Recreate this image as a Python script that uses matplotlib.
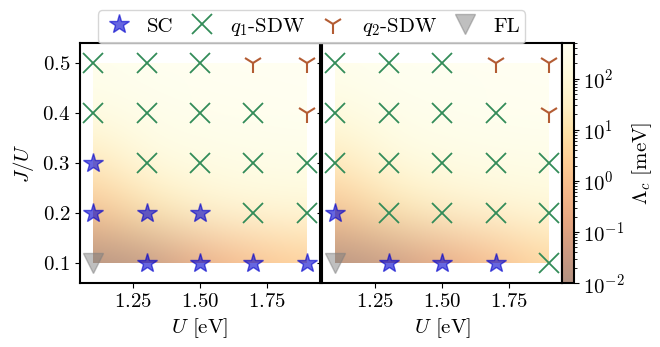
import numpy as np
import matplotlib.pyplot as plt
from matplotlib.colors import LogNorm
from matplotlib.lines import Line2D
from matplotlib.patches import Rectangle

plt.rcParams['font.family'] = 'serif'
plt.rcParams['font.serif'] = ['cmr10']
plt.rcParams['mathtext.fontset'] = 'cm'
plt.rcParams['axes.formatter.use_mathtext'] = True
plt.rcParams['font.size'] = 15

# grid
U = [1.1, 1.3, 1.5, 1.7, 1.9]
JU = [0.1, 0.2, 0.3, 0.4, 0.5]

# Lambda_c [meV], rows = J/U, cols = U
lam_left = [
    [0.01, 0.02, 0.2, 1.0, 3.0],
    [1.0, 10, 40, 80, 100],
    [20, 150, 200, 250, 250],
    [200, 300, 350, 400, 450],
    [350, 450, 500, 500, 500],
]
lam_right = [
    [0.01, 0.03, 0.15, 0.8, 5.0],
    [1.0, 10, 30, 60, 100],
    [20, 120, 200, 250, 250],
    [150, 300, 350, 400, 450],
    [350, 450, 500, 500, 500],
]

# phases, rows = J/U, cols = U
phase_left = [
    ['FL', 'SC', 'SC', 'SC', 'SC'],
    ['SC', 'SC', 'SC', 'q1', 'q1'],
    ['SC', 'q1', 'q1', 'q1', 'q1'],
    ['q1', 'q1', 'q1', 'q1', 'q2'],
    ['q1', 'q1', 'q1', 'q2', 'q2'],
]
phase_right = [
    ['FL', 'SC', 'SC', 'SC', 'q1'],
    ['SC', 'q1', 'q1', 'q1', 'q1'],
    ['q1', 'q1', 'q1', 'q1', 'q1'],
    ['q1', 'q1', 'q1', 'q1', 'q2'],
    ['q1', 'q1', 'q1', 'q2', 'q2'],
]

styles = {
    'SC': dict(marker='*', color=(0.0, 0.0, 0.8), alpha=0.6, ms=15, mew=1, ls='none'),
    'q1': dict(marker='x', color=(0.2, 0.55, 0.35), ms=14, mew=1.3, ls='none'),
    'q2': dict(marker='1', color=(0.7, 0.36, 0.2), ms=15, mew=1.5, ls='none'),
    'FL': dict(marker='v', color='grey', alpha=0.5, ms=15, mew=1, ls='none'),
}
names = {'SC': 'SC', 'q1': '$q_1$-SDW', 'q2': '$q_2$-SDW', 'FL': 'FL'}

fig = plt.figure(figsize=(6.6, 3.47), dpi=100)
ax1 = fig.add_axes([0.121, 0.184, 0.364, 0.692])
ax2 = fig.add_axes([0.488, 0.184, 0.364, 0.692], sharey=ax1)
cax = fig.add_axes([0.852, 0.184, 0.017, 0.692])

norm = LogNorm(vmin=1e-2, vmax=5e2)
for ax, lam, phase in [(ax1, lam_left, phase_left), (ax2, lam_right, phase_right)]:
    # pixel centres on the grid points, clipped to the computed rectangle
    im = ax.imshow(np.array(lam), origin='lower', extent=[1.0, 2.0, 0.05, 0.55],
                   aspect='auto', cmap='YlOrBr_r', norm=norm, alpha=0.5,
                   interpolation='bicubic', interpolation_stage='rgba')
    im.set_clip_path(Rectangle((1.1, 0.1), 0.8, 0.4, transform=ax.transData))
    ph = np.array(phase)
    for key, st in styles.items():
        jj, uu = np.where(ph == key)
        ax.plot(np.array(U)[uu], np.array(JU)[jj], **st)
    ax.set_xlim(1.05, 1.95)
    ax.set_ylim(0.06, 0.54)
    ax.set_xticks([1.25, 1.5, 1.75])
    ax.set_xlabel('$U$ [eV]')
    for s in ax.spines.values():
        s.set_linewidth(1.5)

ax1.set_yticks([0.1, 0.2, 0.3, 0.4, 0.5])
ax1.set_ylabel('$J/U$')
plt.setp(ax2.get_yticklabels(), visible=False)

cb = fig.colorbar(im, cax=cax)
cb.set_label(r'$\Lambda_c$ [meV]')
cb.outline.set_linewidth(1.5)

handles = [Line2D([], [], **styles[k]) for k in ['SC', 'q1', 'q2', 'FL']]
labels = [names[k] for k in ['SC', 'q1', 'q2', 'FL']]
fig.legend(handles, labels, loc='upper center', bbox_to_anchor=(0.472, 1.0),
           ncol=4, frameon=True, handletextpad=0.6, columnspacing=0.6,
           borderpad=0.25, handlelength=1.5)

fig.savefig('out.png', dpi=100)
